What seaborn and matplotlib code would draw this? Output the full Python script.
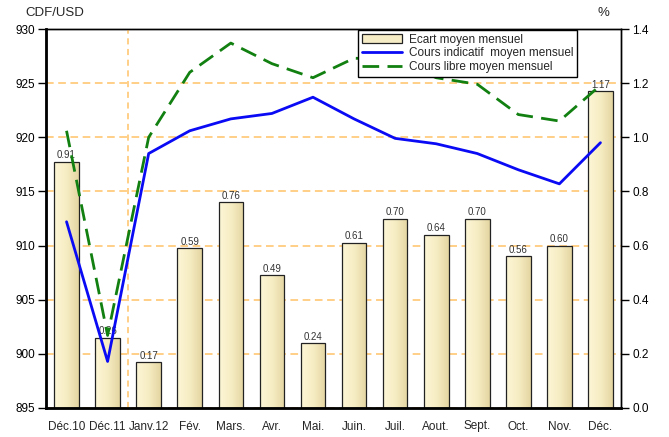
import numpy as np
import pandas as pd
import matplotlib
matplotlib.use('Agg')
import matplotlib.pyplot as plt
from matplotlib.patches import Patch
from matplotlib.lines import Line2D
from matplotlib.colors import LinearSegmentedColormap
import seaborn as sns

# Data
months = ['Déc.10', 'Déc.11', 'Janv.12', 'Fév.', 'Mars.', 'Avr.', 'Mai.',
          'Juin.', 'Juil.', 'Aout.', 'Sept.', 'Oct.', 'Nov.', 'Déc.']
ecart = [0.91, 0.26, 0.17, 0.59, 0.76, 0.49, 0.24, 0.61, 0.70, 0.64, 0.70, 0.56, 0.60, 1.17]
cours_indicatif = [912.2, 899.3, 918.5, 920.6, 921.7, 922.2, 923.7, 921.7, 919.9, 919.4, 918.5, 917.0, 915.7, 919.5]
cours_libre = [920.6, 901.7, 920.0, 926.0, 928.7, 926.8, 925.5, 927.3, 927.2, 925.5, 924.9, 922.1, 921.5, 924.8]

df = pd.DataFrame({'mois': months, 'ecart': ecart,
                   'indicatif': cours_indicatif, 'libre': cours_libre})

sns.set_style('white')
plt.rcParams['font.family'] = ['Liberation Sans', 'DejaVu Sans']

fig = plt.figure(figsize=(6.69, 4.37), dpi=100)
ax = fig.add_axes([46 / 669, 1 - 408 / 437, 575 / 669, 379 / 437])
ax2 = ax.twinx()

grid_col = '#FFC266'

# bars on the right (%) axis, behind everything
sns.barplot(data=df, x='mois', y='ecart', ax=ax2, color='#F6EDC6', width=0.6,
            edgecolor='#222222', linewidth=0.9, saturation=1)
ax2.set_ylim(0, 1.4)
ax2.set_yticks(np.arange(0, 1.41, 0.2))
ax2.set_yticklabels([f'{v:.1f}' for v in np.arange(0, 1.41, 0.2)])
ax2.set_axisbelow(True)
ax2.yaxis.grid(True, color=grid_col, linestyle=(0, (5, 3)), linewidth=1.1)
ax2.set_ylabel('')

# gradient fill on the bars
cmap = LinearSegmentedColormap.from_list('cream', ['#FDF6D6', '#F7EDC4', '#E4D6A2'])
grad = np.linspace(0, 1, 64).reshape(1, -1)
for p in ax2.patches:
    x0, y0 = p.get_x(), p.get_y()
    w, h = p.get_width(), p.get_height()
    im = ax2.imshow(grad, cmap=cmap, aspect='auto', extent=[x0, x0 + w, y0, y0 + h],
                    zorder=p.get_zorder(), interpolation='bilinear')
    im.set_clip_path(p)
    p.set_facecolor('none')
    p.set_zorder(p.get_zorder() + 0.1)

ax2.bar_label(ax2.containers[0], fmt='%.2f', fontsize=7, color='#333333', padding=1)

# lines on the left (CDF/USD) axis
ax.set_zorder(ax2.get_zorder() + 1)
ax.patch.set_visible(False)
sns.lineplot(data=df, x='mois', y='indicatif', ax=ax, color='#0A0AF5', linewidth=2, sort=False)
sns.lineplot(data=df, x='mois', y='libre', ax=ax, color='#118011', linewidth=2,
             linestyle=(0, (6, 3)), sort=False)
ax.set_ylim(895, 930)
ax.set_yticks(range(895, 931, 5))
ax.set_xlim(-0.5, len(months) - 0.5)
ax2.set_xlim(-0.5, len(months) - 0.5)
ax.axvline(1.5, color=grid_col, linestyle=(0, (4, 3)), linewidth=1.1, zorder=0)
ax.set_xlabel('')
ax.set_ylabel('')
ax2.set_xlabel('')

for a in (ax, ax2):
    for s in a.spines.values():
        s.set_color('black')
        s.set_linewidth(1)
ax.spines['left'].set_linewidth(2)
ax.spines['bottom'].set_linewidth(2)

ax.tick_params(axis='y', direction='out', length=6, width=1, labelsize=8.5, colors='black', pad=2)
ax2.tick_params(axis='y', direction='out', length=6, width=1, labelsize=8.5, colors='black', pad=2)
ax.tick_params(axis='x', length=0, labelsize=8.5, pad=9)
ax2.tick_params(axis='x', length=0)
ax.tick_params(axis='y', left=True)
ax2.tick_params(axis='y', right=True)

fig.text(25 / 669, 1 - 13 / 437, 'CDF/USD', fontsize=9.5, va='center', ha='left')
fig.text(603 / 669, 1 - 13 / 437, '%', fontsize=9.5, va='center', ha='center')

handles = [Patch(facecolor='#F6EDC6', edgecolor='#222222', linewidth=0.9),
           Line2D([], [], color='#0A0AF5', linewidth=2),
           Line2D([], [], color='#118011', linewidth=2, linestyle=(0, (6, 3)))]
labels = ['Ecart moyen mensuel', 'Cours indicatif  moyen mensuel', 'Cours libre moyen mensuel']
leg = ax.legend(handles, labels, loc='upper left', bbox_to_anchor=(311 / 575, 1.0),
                fontsize=8.5, frameon=True, fancybox=False, edgecolor='black',
                borderpad=0.3, labelspacing=0.15, handlelength=3.4, handletextpad=0.6,
                borderaxespad=0.1)
leg.get_frame().set_linewidth(1)
leg.get_frame().set_alpha(1)

fig.savefig('out.png', dpi=100)
